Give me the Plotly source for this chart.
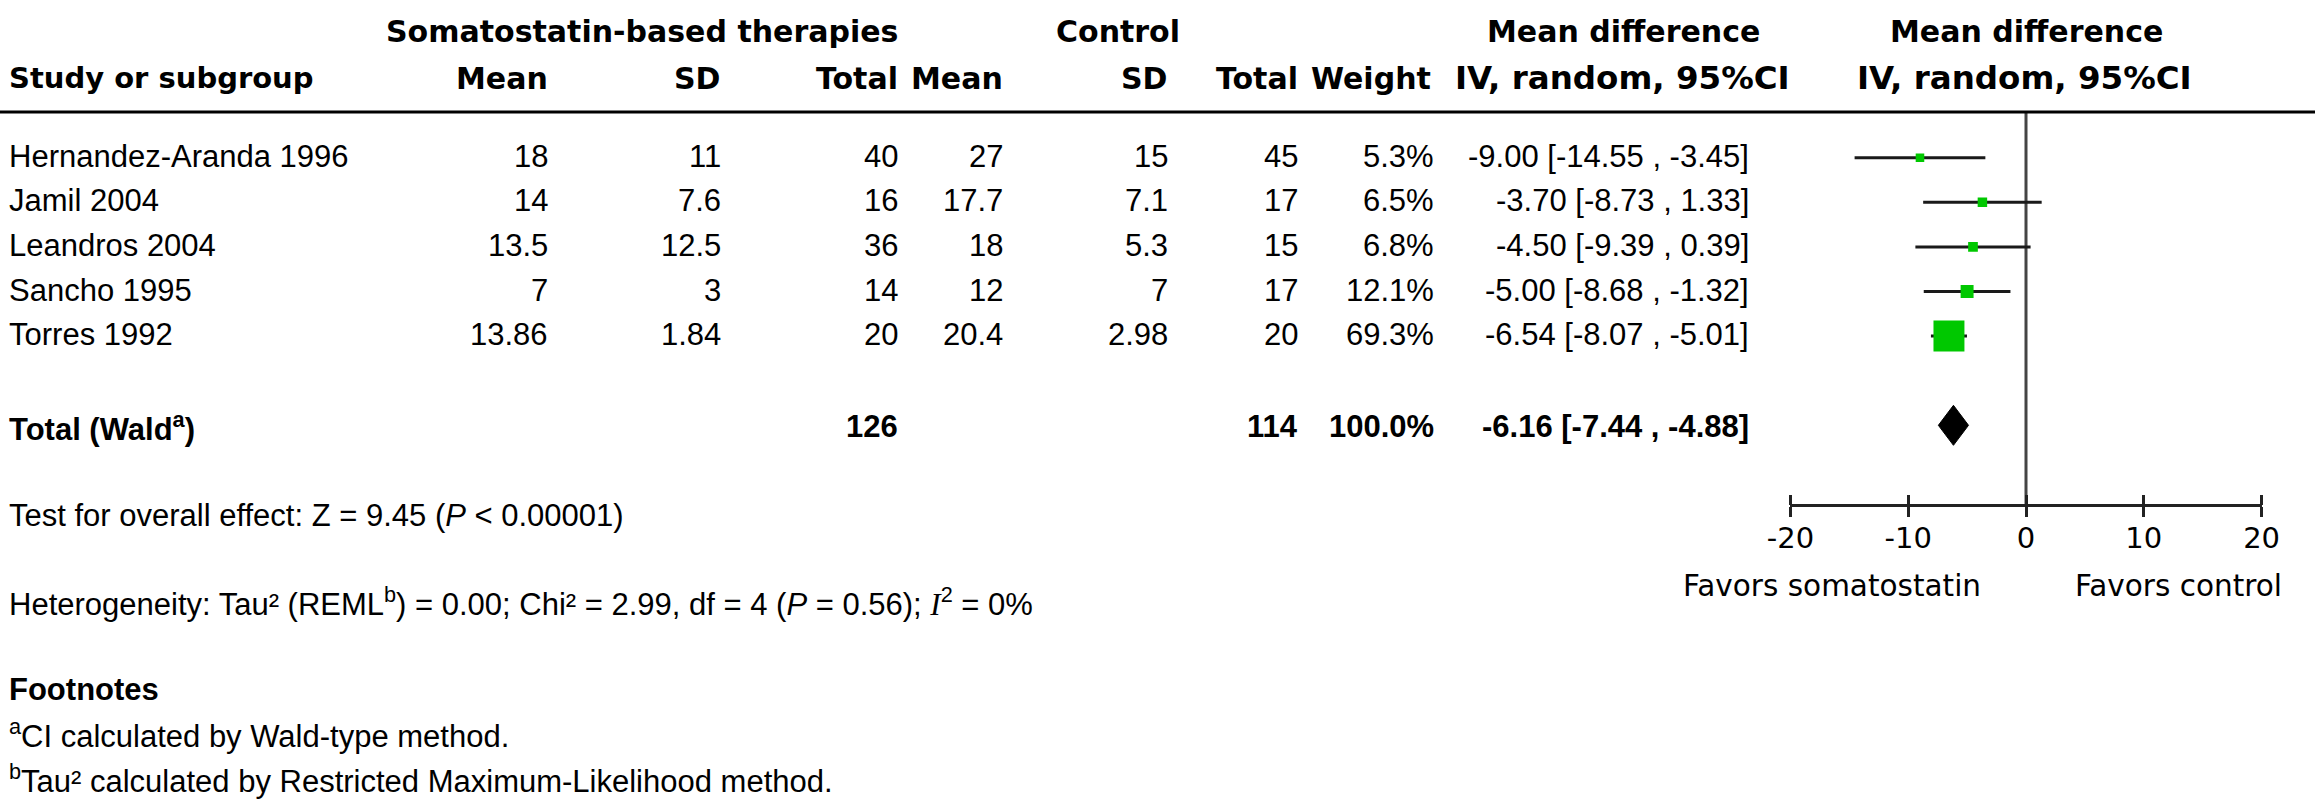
import plotly.graph_objects as go

# ---------------- data ----------------
studies = ["Hernandez-Aranda 1996", "Jamil 2004", "Leandros 2004", "Sancho 1995", "Torres 1992"]
exp_mean = [18, 14, 13.5, 7, 13.86]
exp_sd = [11, 7.6, 12.5, 3, 1.84]
exp_n = [40, 16, 36, 14, 20]
ctl_mean = [27, 17.7, 18, 12, 20.4]
ctl_sd = [15, 7.1, 5.3, 7, 2.98]
ctl_n = [45, 17, 15, 17, 20]
weights = [5.3, 6.5, 6.8, 12.1, 69.3]
md = [-9.00, -3.70, -4.50, -5.00, -6.54]
ci_lo = [-14.55, -8.73, -9.39, -8.68, -8.07]
ci_hi = [-3.45, 1.33, 0.39, -1.32, -5.01]

total_label = "Total (Wald<sup>a</sup>)"
total_exp_n = 126
total_ctl_n = 114
total_weight = 100.0
total_md = -6.16
total_lo = -7.44
total_hi = -4.88

tick_vals = [-20, -10, 0, 10, 20]
x_range = [-20, 20]

# ---------------- layout constants (pixels) ----------------
W, H = 2315, 809
ROW0, ROWH = 157.7, 44.6
TXT_DY = -1.5
HDR1_Y, HDR2_Y = 31.5, 78
HLINE_Y = 112
TOTAL_Y = ROW0 + 6 * ROWH
AXIS_Y = 505
X_LEFT_PX, X_RIGHT_PX = 1790.4, 2261.6

ARIAL = "Arial, Liberation Sans, sans-serif"
VERD = "Verdana, DejaVu Sans, sans-serif"
FS = 31
HFS = 30

cols = {"m1": 549, "sd1": 722, "n1": 899, "m2": 1004, "sd2": 1169, "n2": 1299, "w": 1435, "ci": 1750}


def px(x):
    return x / W


def fmt(v):
    return f"{v:g}"


def ci_text(m, l, h):
    return f"{m:.2f} [{l:.2f} , {h:.2f}]"


fig = go.Figure()
ann = []


def add_text(text, xpx, y, anchor="left", font=ARIAL, size=FS, bold=False):
    t = f"<b>{text}</b>" if bold else text
    ann.append(dict(text=t, x=px(xpx), y=y, xref="paper", yref="y", xanchor=anchor,
                    yanchor="middle", showarrow=False, borderpad=0,
                    font=dict(family=font, size=size, color="black")))


# headers
add_text("Somatostatin-based therapies", 899, HDR1_Y, "right", VERD, HFS, True)
add_text("Control", 1118, HDR1_Y, "center", VERD, HFS, True)
add_text("Mean difference", 1623, HDR1_Y, "center", VERD, HFS, True)
add_text("Mean difference", 2026, HDR1_Y, "center", VERD, HFS, True)
add_text("Study or subgroup", 8, HDR2_Y, "left", VERD, 29, True)
for key, lab in [("m1", "Mean"), ("sd1", "SD"), ("n1", "Total"), ("m2", "Mean"), ("sd2", "SD"), ("n2", "Total")]:
    add_text(lab, cols[key], HDR2_Y, "right", VERD, HFS, True)
add_text("Weight", 1432, HDR2_Y, "right", VERD, HFS, True)
add_text("IV, random, 95%CI", 1622, HDR2_Y, "center", VERD, 32.5, True)
add_text("IV, random, 95%CI", 2024, HDR2_Y, "center", VERD, 32.5, True)

# study rows
row_y = [ROW0 + i * ROWH for i in range(len(studies))]
for i, s in enumerate(studies):
    y = row_y[i] + TXT_DY
    add_text(s, 8, y, "left")
    add_text(fmt(exp_mean[i]), cols["m1"], y, "right")
    add_text(fmt(exp_sd[i]), cols["sd1"], y, "right")
    add_text(fmt(exp_n[i]), cols["n1"], y, "right")
    add_text(fmt(ctl_mean[i]), cols["m2"], y, "right")
    add_text(fmt(ctl_sd[i]), cols["sd2"], y, "right")
    add_text(fmt(ctl_n[i]), cols["n2"], y, "right")
    add_text(f"{weights[i]:.1f}%", cols["w"], y, "right")
    add_text(ci_text(md[i], ci_lo[i], ci_hi[i]), cols["ci"], y, "right")

# total row
ty = TOTAL_Y + 1.5
add_text(total_label, 8, ty, "left", bold=True)
add_text(str(total_exp_n), cols["n1"], ty, "right", bold=True)
add_text(str(total_ctl_n), cols["n2"], ty, "right", bold=True)
add_text(f"{total_weight:.1f}%", cols["w"], ty, "right", bold=True)
add_text(ci_text(total_md, total_lo, total_hi), cols["ci"], ty, "right", bold=True)

# bottom notes
add_text("Test for overall effect: Z = 9.45 (<i>P</i> < 0.00001)", 8, 515, "left")
add_text("Heterogeneity: Tau² (REML<sup>b</sup>) = 0.00; Chi² = 2.99, df = 4 (<i>P</i> = 0.56); "
         "<span style=\"font-family:'Times New Roman',Liberation Serif,serif\"><i>I</i></span><sup>2</sup> = 0%",
         8, 602, "left")
add_text("Footnotes", 8, 689, "left", bold=True)
add_text("<sup>a</sup>CI calculated by Wald-type method.", 8, 734, "left")
add_text("<sup>b</sup>Tau² calculated by Restricted Maximum-Likelihood method.", 8, 779, "left")

# favors labels
add_text("Favors somatostatin", 1832, 586, "center", VERD, 29.5)
add_text("Favors control", 2178, 586, "center", VERD, 29.5)

# ---------------- forest marks ----------------
# zero line
fig.add_trace(go.Scatter(x=[0, 0], y=[HLINE_Y, AXIS_Y], mode="lines",
                         line=dict(color="#444444", width=3), hoverinfo="skip", showlegend=False))
# CI whiskers
for i in range(len(studies)):
    fig.add_trace(go.Scatter(x=[ci_lo[i], ci_hi[i]], y=[row_y[i], row_y[i]], mode="lines",
                             line=dict(color="#1a1a1a", width=3), hoverinfo="skip", showlegend=False))
# squares sized by weight
sizes = [3.72 * (w ** 0.5) for w in weights]
fig.add_trace(go.Scatter(x=md, y=row_y, mode="markers",
                         marker=dict(symbol="square", size=sizes, color="#00C800", opacity=1,
                                     line=dict(width=0)),
                         hoverinfo="skip", showlegend=False))
# diamond
DH = 20
fig.add_trace(go.Scatter(x=[total_lo, total_md, total_hi, total_md, total_lo],
                         y=[TOTAL_Y, TOTAL_Y - DH, TOTAL_Y, TOTAL_Y + DH, TOTAL_Y],
                         mode="lines", fill="toself", fillcolor="black",
                         line=dict(color="black", width=1), hoverinfo="skip", showlegend=False))

dom = [X_LEFT_PX / W, X_RIGHT_PX / W]
axis_pos = 1 - AXIS_Y / H

fig.update_layout(
    width=W, height=H,
    margin=dict(l=0, r=0, t=0, b=0, pad=0, autoexpand=False),
    paper_bgcolor="white", plot_bgcolor="white",
    showlegend=False,
    xaxis=dict(domain=dom, range=x_range, anchor="free", position=axis_pos,
               showline=True, linecolor="#222222", linewidth=3, automargin=False,
               ticks="outside", ticklen=10, tickwidth=3, tickcolor="#222222",
               ticklabelstandoff=-4,
               tickvals=tick_vals, ticktext=[str(t) for t in tick_vals],
               tickfont=dict(family=VERD, size=29, color="black"),
               showgrid=False, zeroline=False, fixedrange=True),
    xaxis2=dict(domain=dom, range=x_range, overlaying="x", anchor="free", position=axis_pos,
                side="top", showline=False, ticks="outside", ticklen=10, tickwidth=3, automargin=False,
                tickcolor="#222222", tickvals=tick_vals, showticklabels=False,
                showgrid=False, zeroline=False, fixedrange=True),
    yaxis=dict(domain=[0, 1], range=[H, 0], visible=False, showgrid=False, zeroline=False,
               fixedrange=True, automargin=False),
    annotations=ann,
    shapes=[dict(type="line", xref="paper", yref="y", x0=0, x1=1, y0=HLINE_Y, y1=HLINE_Y,
                 line=dict(color="black", width=3))],
)

# dummy trace to activate xaxis2
fig.add_trace(go.Scatter(x=[None], y=[None], xaxis="x2", showlegend=False, hoverinfo="skip"))

fig.write_html("out.html", config={"displayModeBar": False},
               post_script="document.body.style.margin='0px';document.body.style.overflow='hidden';")
